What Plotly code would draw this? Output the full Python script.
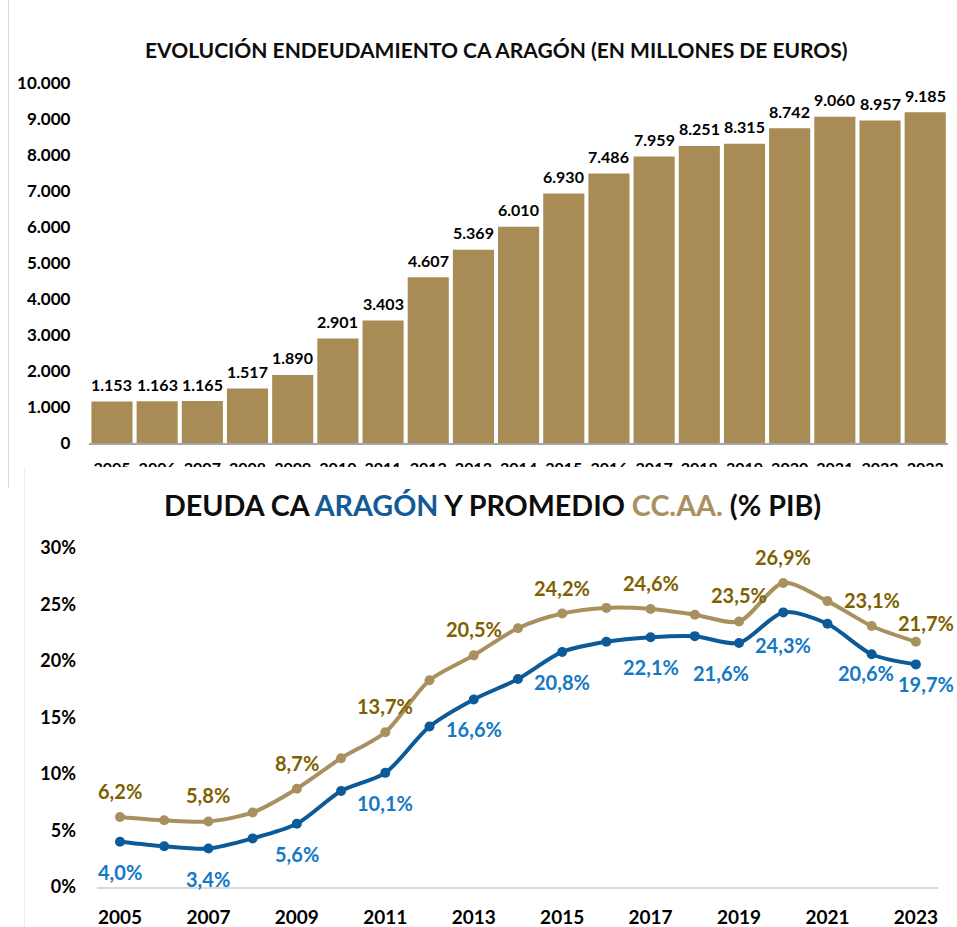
import plotly.graph_objects as go

# ---------------- data ----------------
years = list(range(2005, 2024))
deuda_millones = [1153, 1163, 1165, 1517, 1890, 2901, 3403, 4607, 5369, 6010,
                  6930, 7486, 7959, 8251, 8315, 8742, 9060, 8957, 9185]
aragon_pct = [4.0, 3.6, 3.4, 4.3, 5.6, 8.5, 10.1, 14.2, 16.6, 18.4,
              20.8, 21.7, 22.1, 22.2, 21.6, 24.3, 23.3, 20.6, 19.7]
ccaa_pct = [6.2, 5.9, 5.8, 6.6, 8.7, 11.4, 13.7, 18.3, 20.5, 22.9,
            24.2, 24.7, 24.6, 24.1, 23.5, 26.9, 25.3, 23.1, 21.7]
labeled_years = [2005, 2007, 2009, 2011, 2013, 2015, 2017, 2019, 2020, 2022, 2023]
deuda_ticks = [0, 1000, 2000, 3000, 4000, 5000, 6000, 7000, 8000, 9000, 10000]
pct_ticks = [0, 5, 10, 15, 20, 25, 30]
line_year_ticks = [2005, 2007, 2009, 2011, 2013, 2015, 2017, 2019, 2021, 2023]

title_top = "EVOLUCIÓN ENDEUDAMIENTO CA ARAGÓN (EN MILLONES DE EUROS)"

# ---------------- style ----------------
W, H = 957, 927
FONT = "Lato"
BAR_COLOR = "#A98B56"
TAN_LINE = "#A8905F"
BLUE_LINE = "#0C5A97"
TAN_TEXT = "#7F6000"
BLUE_TEXT = "#1578C4"

def px(p):
    return p / W

def py(p):
    return 1 - p / H

# label offsets (pixels) : default above / below, with a few overrides
tan_shift = {2023: (10, 19)}
blue_shift = {2019: (-18, -30), 2020: (0, -33), 2022: (-6, -19), 2023: (10, -20)}

fig = go.Figure()

# top chart: bars
fig.add_trace(go.Bar(x=years, y=deuda_millones, marker=dict(color=BAR_COLOR, line=dict(width=0)),
                     xaxis="x", yaxis="y", hoverinfo="skip", showlegend=False))
# helper subplots without data (used only to mask the clipped year labels of the top chart)
fig.add_trace(go.Scatter(x=[], y=[], xaxis="x2", yaxis="y2", showlegend=False))
fig.add_trace(go.Scatter(x=[], y=[], xaxis="x3", yaxis="y3", showlegend=False))
# bottom chart: lines
fig.add_trace(go.Scatter(x=years, y=ccaa_pct, mode="lines+markers",
                         line=dict(color=TAN_LINE, width=4, shape="spline", smoothing=0.8),
                         marker=dict(color=TAN_LINE, size=10),
                         xaxis="x4", yaxis="y4", showlegend=False, cliponaxis=False))
fig.add_trace(go.Scatter(x=years, y=aragon_pct, mode="lines+markers",
                         line=dict(color=BLUE_LINE, width=4, shape="spline", smoothing=0.8),
                         marker=dict(color=BLUE_LINE, size=10),
                         xaxis="x4", yaxis="y4", showlegend=False, cliponaxis=False))

annotations = []
# bar value labels
for yr, v in zip(years, deuda_millones):
    annotations.append(dict(x=yr, y=v, xref="x", yref="y", text=f"{v:,}".replace(",", "."),
                            showarrow=False, yanchor="middle", yshift=17,
                            font=dict(family=FONT, size=16, color="#000000", weight="bold")))

def fmt_pct(v):
    return f"{v:.1f}".replace(".", ",") + "%"

for yr, vt, vb in zip(years, ccaa_pct, aragon_pct):
    if yr not in labeled_years:
        continue
    dx, dy = tan_shift.get(yr, (0, 26))
    annotations.append(dict(x=yr, y=vt, xref="x4", yref="y4", text=fmt_pct(vt), showarrow=False,
                            xshift=dx, yshift=dy, yanchor="middle",
                            font=dict(family=FONT, size=20, color=TAN_TEXT, weight="bold")))
    dx, dy = blue_shift.get(yr, (0, -30))
    annotations.append(dict(x=yr, y=vb, xref="x4", yref="y4", text=fmt_pct(vb), showarrow=False,
                            xshift=dx, yshift=dy, yanchor="middle",
                            font=dict(family=FONT, size=20, color=BLUE_TEXT, weight="bold")))

# titles
annotations.append(dict(x=px(496), y=py(50), xref="paper", yref="paper", text=title_top,
                        showarrow=False, xanchor="center", yanchor="middle",
                        font=dict(family=FONT, size=21, color="#0D0D0D", weight="bold")))
annotations.append(dict(x=px(492), y=py(505), xref="paper", yref="paper",
                        text=("DEUDA CA <span style='color:#135A96'>ARAGÓN</span> Y PROMEDIO "
                              "<span style='color:#A8905F'>CC.AA.</span> (% PIB)"),
                        showarrow=False, xanchor="center", yanchor="middle",
                        font=dict(family=FONT, size=28.7, color="#0D0D0D", weight="bold")))

shapes = [
    dict(type="line", xref="paper", yref="paper", x0=px(8.5), x1=px(8.5), y0=py(0), y1=py(488),
         line=dict(color="#D9D9D9", width=1), layer="above"),
    dict(type="line", xref="paper", yref="paper", x0=px(24.5), x1=px(24.5), y0=py(467), y1=py(927),
         line=dict(color="#EDEDED", width=1), layer="above"),
]

tick_font_top = dict(family=FONT, size=17, color="#000000", weight="bold")

fig.update_layout(
    width=W, height=H, autosize=False,
    margin=dict(l=0, r=0, t=0, b=0, pad=0, autoexpand=False),
    paper_bgcolor="white", plot_bgcolor="white",
    separators=",.",
    bargap=0.09,
    showlegend=False,
    xaxis=dict(domain=[px(89.4), px(947.8)], anchor="y", range=[2004.5, 2023.5], automargin=False,
               tickvals=years, ticktext=[str(y) for y in years], showgrid=False, zeroline=False,
               showline=True, linecolor="#A6A6A6", linewidth=2, ticks="",
               ticklabelstandoff=10,
               tickfont=dict(family=FONT, size=16, color="#000000", weight="bold")),
    yaxis=dict(domain=[py(443), py(83)], anchor="x", range=[0, 10000], automargin=False,
               tickvals=deuda_ticks, tickformat=",d", showgrid=False, zeroline=False,
               showline=False, ticks="", ticklabelstandoff=18, tickfont=tick_font_top),
    xaxis2=dict(domain=[0, 0.03], anchor="y2", visible=False, automargin=False),
    yaxis2=dict(domain=[0, 0.05], anchor="x2", visible=False, automargin=False),
    xaxis3=dict(domain=[px(24), 1], anchor="y3", visible=False, automargin=False),
    yaxis3=dict(domain=[0, py(467)], anchor="x3", visible=False, automargin=False),
    xaxis4=dict(domain=[px(97), px(938)], anchor="y4", range=[2004.48, 2023.5], automargin=False,
                tickvals=line_year_ticks, ticktext=[str(y) for y in line_year_ticks],
                showgrid=False, zeroline=False, showline=True, linecolor="#D9D9D9", linewidth=2,
                ticks="", ticklabelstandoff=12,
                tickfont=dict(family=FONT, size=19, color="#000000", weight="bold")),
    yaxis4=dict(domain=[py(887), py(467)], anchor="x4", range=[0, (887 - 467) / 11.3], automargin=False,
                tickvals=pct_ticks, ticktext=[f"{t}%" for t in pct_ticks],
                showgrid=False, zeroline=False, showline=False, ticks="", ticklabelstandoff=20,
                tickfont=dict(family=FONT, size=18, color="#000000", weight="bold")),
    annotations=annotations,
    shapes=shapes,
)

page_fix = (
    "var de=document.documentElement, b=document.body;"
    "[de,b].forEach(function(e){e.style.margin='0';e.style.padding='0';"
    "e.style.overflow='hidden';e.style.height='927px';e.style.width='957px';});"
    "var gd=document.getElementById('{plot_id}');"
    "gd.style.position='fixed';gd.style.top='0px';gd.style.left='0px';"
)

fig.write_html("out.html", config={"displayModeBar": False}, post_script=page_fix)
